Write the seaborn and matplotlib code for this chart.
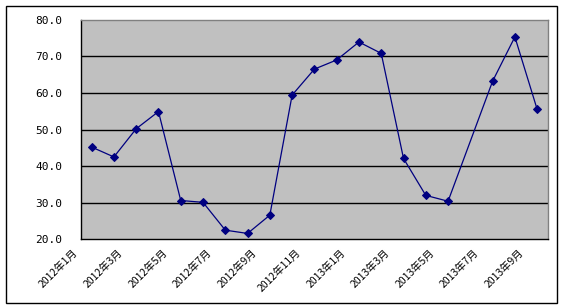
import numpy as np
import pandas as pd
import seaborn as sns
import matplotlib
matplotlib.use("Agg")
import matplotlib.pyplot as plt
from matplotlib.patches import Rectangle
from matplotlib.transforms import ScaledTranslation

months = ["2012年1月", "2012年2月", "2012年3月", "2012年4月", "2012年5月", "2012年6月",
          "2012年7月", "2012年8月", "2012年9月", "2012年10月", "2012年11月", "2012年12月",
          "2013年1月", "2013年2月", "2013年3月", "2013年4月", "2013年5月", "2013年6月",
          "2013年7月", "2013年8月", "2013年9月"]
values = [45.2, 42.5, 50.2, 54.9, 30.6, 30.1, 22.5, 21.6, 26.6, 59.4, 66.5,
          69.0, 73.9, 70.8, 42.1, 32.0, 30.4, np.nan, 63.2, 75.3, 55.5]
y_ticks = [20, 30, 40, 50, 60, 70, 80]
y_tick_labels = ["20.0", "30.0", "40.0", "50.0", "60.0", "70.0", "80.0"]

df = pd.DataFrame({"pos": np.arange(len(months)), "month": months, "value": values}).dropna()

sns.set_style("white")
plt.rcParams['font.family'] = ['Noto Sans CJK SC', 'DejaVu Sans']
plt.rcParams['xtick.labelcolor'] = 'black'
plt.rcParams['ytick.labelcolor'] = 'black'

W, H = 564, 308
fig = plt.figure(figsize=(W / 100, H / 100), dpi=100)
fig.patch.set_facecolor("white")
ax = fig.add_axes([80.5 / W, 1 - 239.3 / H, (548.3 - 80.5) / W, (239.3 - 19.7) / H])
ax.set_facecolor("#C0C0C0")

for yv in y_ticks[1:-1]:
    ax.axhline(yv, color="black", lw=1.0, zorder=1)

sns.lineplot(data=df, x="pos", y="value", ax=ax, color="#000080", lw=0.9,
             marker="D", markersize=3.8, markeredgecolor="#000080",
             markerfacecolor="#000080", zorder=3)

ax.set_xlim(-0.5, len(months) - 0.5)
ax.set_ylim(20, 80)
ax.set_xlabel("")
ax.set_ylabel("")

# major ticks (marks between categories)
ax.set_xticks(np.arange(-0.5, len(months) - 0.4, 2))
ax.set_xticklabels([])
ax.tick_params(axis="x", which="major", direction="in", length=3.5, width=0.8, color="black")
# minor ticks carry labels
label_pos = np.arange(0, len(months), 2)
ax.set_xticks(label_pos, minor=True)
ax.set_xticklabels([months[i] for i in label_pos], minor=True)
ax.tick_params(axis="x", which="minor", length=0, pad=6, labelcolor="black")
off = ScaledTranslation(-19 / 100, 0, fig.dpi_scale_trans)
for lab in ax.get_xticklabels(minor=True):
    lab.set_rotation(45)
    lab.set_ha("right")
    lab.set_va("top")
    lab.set_rotation_mode("anchor")
    lab.set_fontsize(7.5)
    lab.set_color("black")
    lab.set_transform(lab.get_transform() + off)

ax.set_yticks(y_ticks)
ax.set_yticklabels(y_tick_labels, family="DejaVu Sans Mono", fontsize=8, color="black")
ax.tick_params(axis="y", length=0, pad=13.3)

for s in ["left", "bottom"]:
    ax.spines[s].set_color("black")
    ax.spines[s].set_linewidth(1.0)
for s in ["top", "right"]:
    ax.spines[s].set_color("#808080")
    ax.spines[s].set_linewidth(1.0)
    ax.spines[s].set_visible(True)
for s in ax.spines.values():
    s.set_zorder(4)

fig.add_artist(Rectangle((5.5 / W, 1 - 302.5 / H), 551 / W, 297 / H,
                         transform=fig.transFigure, fill=False, ec="black", lw=1.0))

fig.savefig("out.png", dpi=100, facecolor="white")
